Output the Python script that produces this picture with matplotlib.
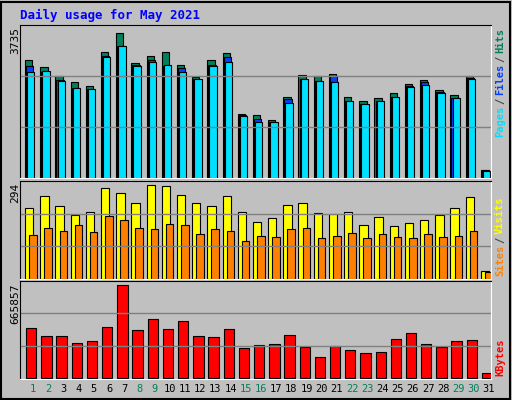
import matplotlib
matplotlib.use("Agg")
import matplotlib.pyplot as plt
from matplotlib.patches import Rectangle

days = list(range(1, 32))
hits = [2972, 2799, 2553, 2405, 2307, 3169, 3637, 2898, 3070, 3169, 2849, 2528, 2972, 3144, 1617, 1593,
        1469, 2036, 2602, 2553, 2627, 2036, 1937, 2011, 2134, 2356, 2455, 2208, 2085, 2553, 189]
files = [2824, 2676, 2455, 2257, 2233, 3070, 3316, 2849, 2972, 2824, 2775, 2479, 2849, 3046, 1593, 1494,
         1420, 1987, 2479, 2430, 2553, 1937, 1863, 1937, 2036, 2307, 2405, 2159, 2011, 2504, 189]
pages = [2676, 2701, 2430, 2257, 2233, 3046, 3316, 2824, 2922, 2849, 2676, 2479, 2824, 2922, 1568, 1420,
         1396, 1888, 2479, 2430, 2405, 1937, 1863, 1937, 2036, 2282, 2331, 2134, 2011, 2479, 180]
visits = [216, 253, 222, 197, 206, 277, 262, 234, 287, 284, 256, 234, 222, 253, 206, 175,
          188, 225, 234, 203, 200, 206, 166, 191, 163, 172, 182, 197, 216, 250, 24]
sites = [135, 157, 148, 166, 144, 194, 182, 157, 154, 169, 166, 138, 154, 148, 117, 132,
         129, 154, 157, 126, 132, 141, 126, 138, 129, 126, 138, 129, 132, 148, 21]
kbytes = [351800, 295100, 295100, 245500, 259700, 358900, 649300, 337600, 415500, 344700, 401400,
          295100, 288000, 344700, 210100, 231400, 238500, 302200, 217200, 146400, 224300, 196000,
          174700, 181800, 273900, 316400, 238500, 217200, 259700, 266800, 33100]
weekend = {1, 2, 8, 9, 15, 16, 22, 23, 29, 30}

BG = "#C0C0C0"
MONO = "DejaVu Sans Mono"
W, H = 512, 400

fig = plt.figure(figsize=(W / 100, H / 100), dpi=100, facecolor=BG)
fig.patches.append(Rectangle((1 / W, 1 / H), 1 - 3 / W, 1 - 3 / H, transform=fig.transFigure,
                             fill=False, edgecolor="black", linewidth=1.5))


def panel(y0, y1):
    ax = fig.add_axes([20 / W, 1 - y1 / H, 471 / W, (y1 - y0) / H], facecolor=BG)
    ax.set_xlim(0, 31)
    ax.set_xticks([])
    ax.set_yticks([])
    for s in ("left", "top"):
        ax.spines[s].set_color("black")
    for s in ("right", "bottom"):
        ax.spines[s].set_color("white")
    return ax


x = [d - 1 for d in days]

# ── Hits / Files / Pages ──────────────────────────────────
ax1 = panel(25, 178)
ymax1 = 3735 * 1.03
ax1.set_ylim(0, ymax1)
for f in (1 / 3, 2 / 3):
    ax1.axhline(ymax1 * f, color="#808080", lw=1)
ax1.bar([v + 0.33 for v in x], hits, width=0.48, align="edge", color="#00805C", edgecolor="black", lw=0.8)
ax1.bar([v + 0.40 for v in x], files, width=0.48, align="edge", color="#0040FF", edgecolor="black", lw=0.8)
ax1.bar([v + 0.47 for v in x], pages, width=0.48, align="edge", color="#00E0FF", edgecolor="black", lw=0.8)

# ── Visits / Sites ────────────────────────────────────────
ax2 = panel(181, 279)
ymax2 = 294 * 1.02
ax2.set_ylim(0, ymax2)
for f in (1 / 3, 2 / 3):
    ax2.axhline(ymax2 * f, color="#808080", lw=1)
ax2.bar([v + 0.33 for v in x], visits, width=0.55, align="edge", color="#FFFF00", edgecolor="black", lw=0.8)
ax2.bar([v + 0.6 for v in x], sites, width=0.5, align="edge", color="#FF8000", edgecolor="black", lw=0.8)

# ── KBytes ────────────────────────────────────────────────
ax3 = panel(281, 379)
ymax3 = 665857 * 1.02
ax3.set_ylim(-ymax3 * 0.01, ymax3)
for f in (1 / 3, 2 / 3):
    ax3.axhline(ymax3 * f, color="#808080", lw=1)
ax3.bar([v + 0.4 for v in x], kbytes, width=0.68, align="edge", color="#FF0000", edgecolor="black", lw=0.8)

# ── Texts ─────────────────────────────────────────────────
fig.text(20 / W, 1 - 15 / H, "Daily usage for May 2021", color="#0000FF", family=MONO,
         fontsize=9, fontweight="bold", va="center")
for label, ytop in (("3735", 27), ("294", 183), ("665857", 283)):
    fig.text(15 / W, 1 - ytop / H, label, rotation=90, family=MONO, fontsize=8,
             ha="center", va="top")


def side_label(parts, ybottom):
    y = ybottom
    for txt, col in parts:
        fig.text(500 / W, 1 - y / H, txt, rotation=90, family=MONO, fontsize=7.5,
                 fontweight="bold", color=col, ha="center", va="bottom")
        y -= len(txt) * 6.0 + 3


side_label([("Pages", "#00E0FF"), ("/", "#404040"), ("Files", "#0040FF"),
            ("/", "#404040"), ("Hits", "#00805C")], 137)
side_label([("Sites", "#FF8000"), ("/", "#404040"), ("Visits", "#FFFF00")], 276)
side_label([("KBytes", "#FF0000")], 376)

for d in days:
    fig.text((20 + (d - 0.5) * 471 / 31 + 5.5) / W, 1 - 389 / H, str(d), family=MONO, fontsize=7.5,
             color="#00805C" if d in weekend else "black", ha="center", va="center")

fig.savefig("out.png", dpi=100, facecolor=BG)
